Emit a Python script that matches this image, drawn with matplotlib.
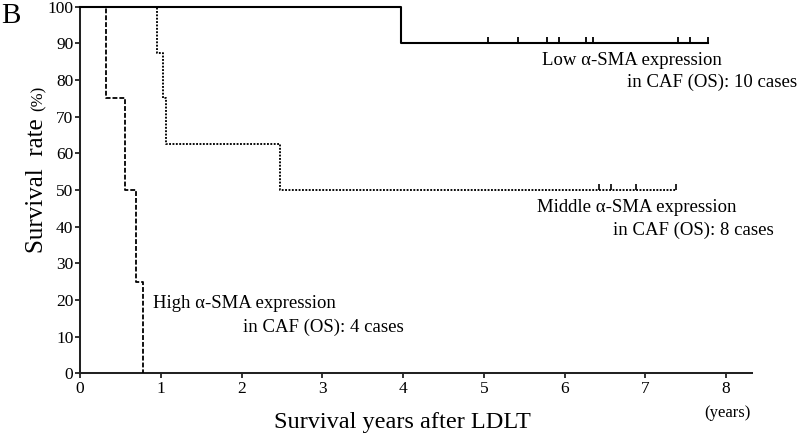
import matplotlib
matplotlib.use("Agg")
import matplotlib.pyplot as plt
from matplotlib.path import Path

plt.rcParams['font.family'] = ['Liberation Serif', 'DejaVu Serif']

# ---- data ----
low_times = [0, 3.97, 7.78]
low_surv = [100, 90, 90]
low_censor = [5.05, 5.42, 5.78, 5.93, 6.27, 6.35, 7.41, 7.55, 7.78]

mid_times = [0, 0.95, 1.03, 1.07, 2.47, 7.38]
mid_surv = [100, 87.5, 75, 62.5, 50, 50]
mid_censor = [6.43, 6.58, 6.89, 7.38]

high_times = [0, 0.32, 0.56, 0.69, 0.775]
high_surv = [100, 75, 50, 25, 0]

x_ticks = [0, 1, 2, 3, 4, 5, 6, 7, 8]
y_ticks = [0, 10, 20, 30, 40, 50, 60, 70, 80, 90, 100]

W, H = 798, 437
fig = plt.figure(figsize=(W / 100, H / 100), dpi=100)
ax = fig.add_axes([80 / W, (H - 373.3) / H, (752 - 80) / W, (373.3 - 6.7) / H])
ax.set_xlim(0, 8.32)
ax.set_ylim(0, 100)

ax.step(mid_times, mid_surv, where='post', color='black', lw=1.35,
        linestyle=(0, (1.0, 0.8)), clip_on=False, zorder=2)
ax.step(high_times, high_surv, where='post', color='black', lw=1.3,
        linestyle=(0, (2.7, 1.1)), clip_on=False, zorder=3)
ax.step(low_times, low_surv, where='post', color='black', lw=1.5,
        clip_on=False, zorder=4)

tick_marker = Path([(0, 0), (0, 1)], [Path.MOVETO, Path.LINETO])
ax.plot(low_censor, [90] * len(low_censor), linestyle='none', marker=tick_marker,
        markersize=9, markeredgewidth=1.3, color='black', clip_on=False, zorder=4)
ax.plot(mid_censor, [50] * len(mid_censor), linestyle='none', marker=tick_marker,
        markersize=8, markeredgewidth=1.2, color='black', clip_on=False, zorder=4)

for s in ['top', 'right']:
    ax.spines[s].set_visible(False)
for s in ['left', 'bottom']:
    ax.spines[s].set_linewidth(1.45)
    ax.spines[s].set_color('#222222')

ax.set_xticks(x_ticks)
ax.set_yticks(y_ticks)
ax.tick_params(axis='both', direction='out', length=3.6, width=1.3, color='#222222',
               labelsize=12.5)
ax.tick_params(axis='y', pad=1.2)
ax.tick_params(axis='x', pad=2.0)

def px(x, y):
    return x / W, (H - y) / H

fs_ann = 13.5
fig.text(*px(542, 65), "Low α-SMA expression", fontsize=fs_ann, ha='left', va='baseline')
fig.text(*px(627, 87), "in CAF (OS): 10 cases", fontsize=fs_ann, ha='left', va='baseline')
fig.text(*px(537, 212), "Middle α-SMA expression", fontsize=fs_ann, ha='left', va='baseline')
fig.text(*px(613, 235), "in CAF (OS): 8 cases", fontsize=fs_ann, ha='left', va='baseline')
fig.text(*px(153, 308), "High α-SMA expression", fontsize=fs_ann, ha='left', va='baseline')
fig.text(*px(243, 332), "in CAF (OS): 4 cases", fontsize=fs_ann, ha='left', va='baseline')

fig.text(*px(402, 428), "Survival years after LDLT", fontsize=17.5, ha='center', va='baseline')
fig.text(*px(727, 417), "(years)", fontsize=12, ha='center', va='baseline')

fig.text(*px(43, 253), "Survival  rate", fontsize=18, rotation=90,
         rotation_mode='anchor', ha='left', va='baseline')
fig.text(*px(43, 111), "(%)", fontsize=12, rotation=90,
         rotation_mode='anchor', ha='left', va='baseline')

fig.text(*px(1, 23), "B", fontsize=21, ha='left', va='baseline')

fig.savefig("out.png", dpi=100)
